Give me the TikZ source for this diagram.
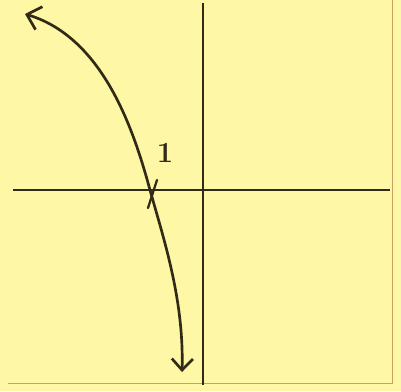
\documentclass[tikz,border=0pt]{standalone}
\usepackage{tikz}
\usetikzlibrary{arrows.meta}
\definecolor{notecol}{RGB}{253,247,166}
\definecolor{inkcol} {RGB}{48,42,22}
\definecolor{edgecol}{RGB}{200,160,96}
\begin{document}
\begin{tikzpicture}[
  x=0.025cm,y=-0.025cm,
  axis/.style={draw=inkcol,line width=1.3pt},
  curve/.style={draw=inkcol,line width=1.9pt,line cap=round,
                {Straight Barb[length=9pt,width=17pt,line width=1.9pt]}-{Straight Barb[length=8pt,width=15pt,line width=1.9pt]}},
  tick/.style={draw=inkcol,line width=1.6pt,line cap=round},
  edge/.style={draw=edgecol,line width=0.7pt},
  lab/.style={text=inkcol,font=\huge\bfseries,inner sep=0pt}
]
\fill[notecol] (0,0) rectangle (401,391);
\useasboundingbox (0,0) rectangle (401,391);
% note edges
\coordinate (ntr) at (392,0);
\coordinate (nbr) at (392,383);
\coordinate (nbl) at (8,383);
\draw[edge] (ntr)--(nbr)--(nbl);
% axes
\coordinate (O)  at (203,190);
\coordinate (xl) at (13,190);
\coordinate (xr) at (390,190);
\coordinate (yt) at (203,3);
\coordinate (yb) at (203,385);
\draw[axis] (xl)--(xr);
\draw[axis] (yt)--(yb);
% the curve
\coordinate (tip1)  at (25,14);
\coordinate (cross) at (150,190);
\coordinate (tip2)  at (182,372);
\draw[curve] (tip1) .. controls (105,38) and (135,135) .. (cross)
                    .. controls (164,240) and (184,300) .. (tip2);
\draw[tick] ([shift={(7,-10)}]cross)--([shift={(-2,18)}]cross);
\node[lab] (one) at (165,153) {1};
\end{tikzpicture}
\end{document}
